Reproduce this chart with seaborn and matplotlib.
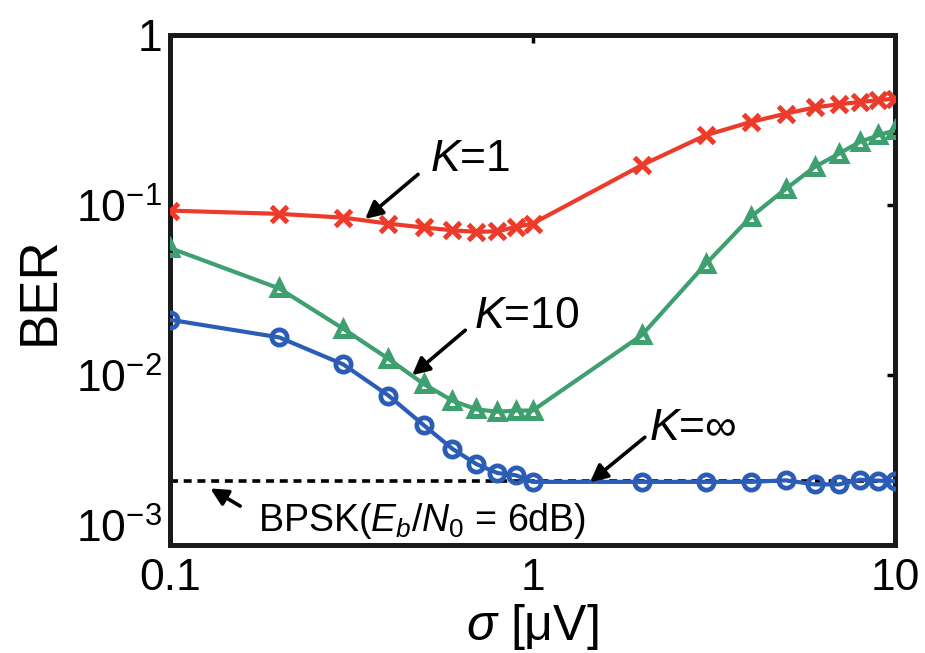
import numpy as np
import pandas as pd
import matplotlib
matplotlib.use("Agg")
import matplotlib.pyplot as plt
import matplotlib.transforms as mtransforms
import seaborn as sns
from matplotlib.ticker import FixedLocator, FixedFormatter, NullLocator

# Noise standard deviation sigma [uV]
sigma = [0.1, 0.2, 0.3, 0.4, 0.5, 0.6, 0.7, 0.8, 0.9, 1,
         2, 3, 4, 5, 6, 7, 8, 9, 10]

# Bit error rate for each number of averaged templates K
ber_k1 = [0.093, 0.089, 0.0846, 0.078, 0.074, 0.0713, 0.0697, 0.0703, 0.0746, 0.078,
          0.172, 0.258, 0.309, 0.346, 0.376, 0.393, 0.405, 0.415, 0.424]
ber_k10 = [0.056, 0.0324, 0.0188, 0.0125, 0.0089, 0.0071, 0.0063, 0.0061, 0.0062, 0.0062,
           0.0172, 0.045, 0.0854, 0.125, 0.168, 0.201, 0.236, 0.258, 0.276]
ber_kinf = [0.0212, 0.0167, 0.0116, 0.0076, 0.0051, 0.0037, 0.0030, 0.00266, 0.00258, 0.00236,
            0.00236, 0.00236, 0.00236, 0.00241, 0.00228, 0.00228, 0.00243, 0.0024, 0.00238]

# Theoretical BPSK reference at Eb/N0 = 6 dB
ber_bpsk = 0.00239

x_ticks = [0.1, 1, 10]
x_ticklabels = ["0.1", "1", "10"]
y_ticks = [1e-3, 1e-2, 1e-1, 1]
y_ticklabels = [r"$\mathregular{10^{-3}}$", r"$\mathregular{10^{-2}}$",
                r"$\mathregular{10^{-1}}$", "1"]

sns.set_style("white")
plt.rcParams["font.family"] = ["Liberation Sans", "DejaVu Sans"]
plt.rcParams["mathtext.fontset"] = "custom"
plt.rcParams["mathtext.rm"] = "Liberation Sans"
plt.rcParams["mathtext.it"] = "Liberation Sans:italic"
plt.rcParams["mathtext.bf"] = "Liberation Sans:bold"
plt.rcParams["text.color"] = "black"
plt.rcParams["axes.labelcolor"] = "black"
plt.rcParams["xtick.color"] = "black"
plt.rcParams["ytick.color"] = "black"

fig = plt.figure(figsize=(9.25, 6.53), dpi=100)
ax = fig.add_axes([0.184, 0.165, 0.7836, 0.781])

df = pd.DataFrame({"sigma": sigma, "k1": ber_k1, "k10": ber_k10, "kinf": ber_kinf})

red = "#EC3B2B"
green = "#3E9F6F"
blue = "#2C5DB6"

ax.plot([0.1, 10], [ber_bpsk, ber_bpsk], color="black", lw=2.6,
        linestyle=(0, (2.2, 1.6)), zorder=1)

sns.lineplot(data=df, x="sigma", y="k1", ax=ax, color=red, lw=3.0,
             marker="x", markersize=12, markeredgewidth=3.6,
             markeredgecolor=red, estimator=None, zorder=3)
sns.lineplot(data=df, x="sigma", y="k10", ax=ax, color=green, lw=3.0,
             marker="^", markersize=10, markeredgewidth=3.6,
             markeredgecolor=green, markerfacecolor="none", estimator=None, zorder=3)
sns.lineplot(data=df, x="sigma", y="kinf", ax=ax, color=blue, lw=3.0,
             marker="o", markersize=11, markeredgewidth=3.4,
             markeredgecolor=blue, markerfacecolor="none", estimator=None, zorder=3)

ax.set_xscale("log")
ax.set_yscale("log")
ax.set_xlim(0.1, 10)
ax.set_ylim(1e-3, 1)

ax.xaxis.set_major_locator(FixedLocator(x_ticks))
ax.xaxis.set_major_formatter(FixedFormatter(x_ticklabels))
ax.yaxis.set_major_locator(FixedLocator(y_ticks))
ax.yaxis.set_major_formatter(FixedFormatter(y_ticklabels))
ax.xaxis.set_minor_locator(NullLocator())
ax.yaxis.set_minor_locator(NullLocator())

ax.tick_params(axis="both", which="major", direction="in", length=6, width=2.5,
               top=True, right=True, labelsize=32, color="black", labelcolor="black")
ax.tick_params(axis="x", pad=9)
ax.tick_params(axis="y", pad=6)

# Lift the lowest y label clear of the "0.1" x label
lift = mtransforms.ScaledTranslation(0, 14 / 72, fig.dpi_scale_trans)
ylabels = ax.yaxis.get_majorticklabels()
ylabels[0].set_transform(ylabels[0].get_transform() + lift)

for sp in ax.spines.values():
    sp.set_visible(True)
    sp.set_linewidth(3.6)
    sp.set_color("#1a1a1a")

ax.set_xlabel(r"$\sigma$ [μV]", fontsize=36, labelpad=2, color="black")
ax.set_ylabel("BER", fontsize=38, labelpad=8, color="black")

arrow = dict(arrowstyle="-|>", lw=2.6, color="black", mutation_scale=26,
             shrinkA=0, shrinkB=0)

# K = 1
ax.annotate("", xy=(0.345, 0.083), xytext=(0.483, 0.152), arrowprops=arrow)
ax.text(0.52, 0.187, r"$K$=1", fontsize=32, ha="left", va="center")

# K = 10
ax.annotate("", xy=(0.465, 0.0100), xytext=(0.652, 0.0184), arrowprops=arrow)
ax.text(0.69, 0.0222, r"$K$=10", fontsize=32, ha="left", va="center")

# K = infinity
ax.annotate("", xy=(1.44, 0.00235), xytext=(2.04, 0.00432), arrowprops=arrow)
ax.text(2.1, 0.00488, r"$K$=∞", fontsize=32, ha="left", va="center")

# BPSK reference
ax.annotate("", xy=(0.129, 0.00216), xytext=(0.156, 0.0017), arrowprops=arrow)
ax.text(0.175, 0.00138, r"BPSK($E_b$/$N_0$ = 6dB)", fontsize=27,
        ha="left", va="center")

fig.savefig("out.png", dpi=100)
